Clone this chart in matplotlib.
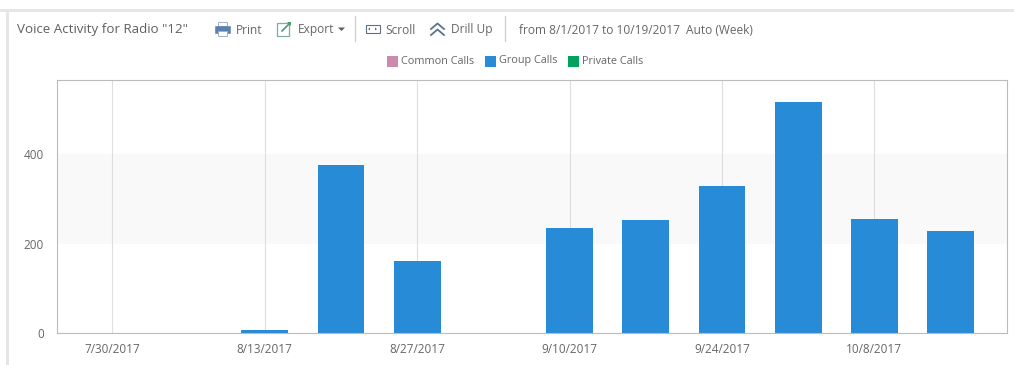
import matplotlib
matplotlib.use("Agg")
import matplotlib.pyplot as plt
from matplotlib.patches import Rectangle, Polygon
from matplotlib.lines import Line2D

plt.rcParams['font.family'] = ['Open Sans', 'DejaVu Sans']

title = 'Voice Activity for Radio "12"'
series_names = ["Common Calls", "Group Calls", "Private Calls"]
series_colors = ["#CB8AAB", "#288BD7", "#00A25E"]
weeks = ["7/30/2017", "8/6/2017", "8/13/2017", "8/20/2017", "8/27/2017", "9/3/2017",
         "9/10/2017", "9/17/2017", "9/24/2017", "10/1/2017", "10/8/2017", "10/15/2017"]
group_calls = [0, 0, 6, 375, 162, 0, 235, 253, 329, 516, 254, 228]
y_ticks = [0, 200, 400]

W, H = 1014, 365
fig = plt.figure(figsize=(W / 100, H / 100), dpi=100)
TXT = "#666666"

# overlay in pixel coordinates for page furniture
ov = fig.add_axes([0, 0, 1, 1], zorder=0)
ov.set_xlim(0, W); ov.set_ylim(H, 0); ov.axis("off")
ov.add_patch(Rectangle((0, 9), W, 2.5, color="#E6E6E6", lw=0))
ov.add_patch(Rectangle((6, 9), 2.5, H - 9, color="#E6E6E6", lw=0))

def t(x, y, s, size=8.6, color=TXT):
    ov.text(x, y, s, fontsize=size, color=color, ha="left", va="center")

t(17, 30, title, 9.65, "#5f5f5f")
t(235.5, 30, "Print")
t(298, 30, "Export")
t(385.5, 30, "Scroll")
t(451, 30, "Drill Up")
t(519, 30, "from 8/1/2017 to 10/19/2017", 8.55)
t(686.5, 30, "Auto (Week)", 8.55)

for x in (354.5, 505):
    ov.add_line(Line2D([x, x], [16, 41], color="#CFCFCF", lw=0.9))

# print icon
ov.add_patch(Rectangle((218, 22), 9, 4, fc="white", ec="#9DB2CC", lw=0.7))
ov.add_patch(Rectangle((215, 26), 14.5, 7, fc="#5B7FAE", ec="#5B7FAE", lw=0.4))
ov.add_patch(Rectangle((218, 31), 9, 4.5, fc="white", ec="#9DB2CC", lw=0.7))
# export icon
ov.add_patch(Rectangle((277, 23), 12, 12.5, fc="white", ec="#7FAE95", lw=0.9))
ov.add_line(Line2D([282, 290], [31, 23], color="#4E9A73", lw=1.2))
ov.add_patch(Polygon([[287, 21.5], [291, 21.5], [291, 25.5]], color="#4E9A73", lw=0))
ov.add_patch(Polygon([[338, 27.5], [345, 27.5], [341.5, 31]], color="#5f5f5f", lw=0))
# scroll icon
ov.add_patch(Rectangle((365.5, 25), 14, 8, fc="white", ec="#5f6f80", lw=0.8))
ov.add_patch(Polygon([[368, 29], [370, 27.5], [370, 30.5]], color="#5f6f80", lw=0))
ov.add_patch(Polygon([[377, 29], [375, 27.5], [375, 30.5]], color="#5f6f80", lw=0))
# drill up icon
for dy in (0, 6):
    ov.add_line(Line2D([431, 437.5, 444], [29 + dy, 23.5 + dy, 29 + dy], color="#5B7390", lw=1.3))

# legend
for x, name, col, tx in zip((387, 485, 568), series_names, series_colors, (401, 499, 582)):
    ov.add_patch(Rectangle((x, 55.5), 11, 11, color=col, lw=0))
    t(tx, 61, name, 7.85)

# chart
L, R, T, B = 56.5, 1006.5, 79.5, 333
ax = fig.add_axes([L / W, 1 - B / H, (R - L) / W, (B - T) / H], zorder=1)
ax.patch.set_alpha(0)
pos = list(range(len(weeks)))
ax.set_xlim(-0.734, 11.735)
ax.set_ylim(0, 566.5)
ax.axhspan(200, 400, color="#F9F9F9", lw=0, zorder=0)
for p in pos[::2]:
    ax.axvline(p, color="#DEDEDE", lw=0.8, zorder=1)
for name, col in zip(series_names, series_colors):
    if name == "Group Calls":
        ax.bar(pos, group_calls, width=0.615, color=col, zorder=2, lw=0)
for s in ax.spines.values():
    s.set_color("#BBBBBB"); s.set_linewidth(0.8)
ax.set_xticks(pos[::2], weeks[::2])
ax.set_yticks(y_ticks)
ax.tick_params(length=0, labelsize=8.5, labelcolor=TXT)
ax.tick_params(axis="x", pad=7.5)
ax.tick_params(axis="y", pad=9)

fig.savefig("out.png", dpi=100)
